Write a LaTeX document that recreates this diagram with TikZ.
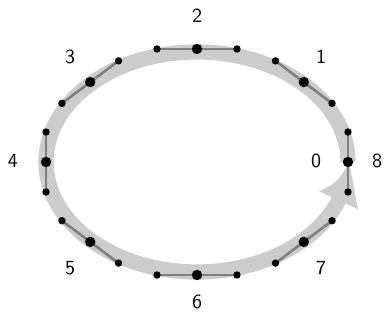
\documentclass[tikz,border=0pt]{standalone}
\usetikzlibrary{arrows.meta,bending}
\begin{document}
\begin{tikzpicture}[x=0.5pt,y=0.5pt,font=\sffamily,
  band/.style={line width=7.6pt,black!20},
  tang/.style={line width=1.3pt,black!50},
  bigdot/.style={circle,fill=black,inner sep=0pt,minimum size=5.2pt},
  smalldot/.style={circle,fill=black,inner sep=0pt,minimum size=3.7pt},
  lbl/.style={inner sep=0pt}]
\useasboundingbox (0,0) rectangle (386,320);
\draw[band,-{Latex[length=20pt,width=22pt,bend]}] (348,158) arc[start angle=0,end angle=360,x radius=151,y radius=110];
\foreach \k in {0,...,7}{
  \coordinate (p\k) at ({197+151*cos(45*\k)},{158+113*sin(45*\k)});
  \coordinate (a\k) at ({197+151*cos(45*\k)-40*sin(45*\k)},{158+113*sin(45*\k)+30*cos(45*\k)});
  \coordinate (b\k) at ({197+151*cos(45*\k)+40*sin(45*\k)},{158+113*sin(45*\k)-30*cos(45*\k)});
  \draw[tang] (a\k) -- (b\k);
  \node[bigdot] (d\k) at (p\k) {};
  \node[smalldot] (da\k) at (a\k) {};
  \node[smalldot] (db\k) at (b\k) {};
}
\node[lbl] (l0) at (316,159) {0};
\node[lbl] (l1) at (321,263) {1};
\node[lbl] (l2) at (197,304) {2};
\node[lbl] (l3) at (70,263) {3};
\node[lbl] (l4) at (13,159) {4};
\node[lbl] (l5) at (70,52) {5};
\node[lbl] (l6) at (197,18) {6};
\node[lbl] (l7) at (321,52) {7};
\node[lbl] (l8) at (377,159) {8};
\end{tikzpicture}
\end{document}
